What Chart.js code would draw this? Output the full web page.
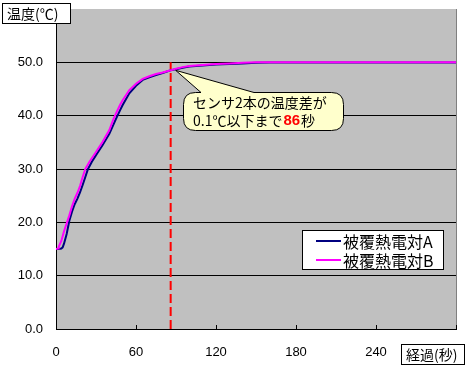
<!DOCTYPE html>
<html><head><meta charset="utf-8">
<script src="https://cdn.jsdelivr.net/npm/chart.js@4.4.0/dist/chart.umd.min.js"></script>
<style>html,body{margin:0;padding:0;background:#fff;}#wrap{width:475px;height:372px;}</style>
</head><body><div id="wrap"><canvas id="c" width="475" height="372"></canvas></div>
<script>
const seriesNames = ['被覆熱電対A', '被覆熱電対B'];
const timeA = [0,2,4,5,6,8,10,12,14,16,18,20,22,24,27,30,35,40,45,48,50,55,60,65,70,75,80,86,90,95,100,110,120,130,140,150,160,200,250,300];
const tempA = [15.0,15.0,15.1,15.3,16.0,17.8,20.3,22.0,23.4,24.4,25.6,27.0,28.5,30.0,31.4,32.6,34.5,36.6,39.4,41.0,42.0,44.2,45.6,46.7,47.2,47.6,48.0,48.5,48.7,49.0,49.2,49.4,49.6,49.7,49.8,49.9,49.95,49.95,49.95,49.95];
const timeB = [0,1.5,2,4,6,8,10,12,14,16,18,20,22,25,30,35,40,43,45,48,50,55,60,65,70,75,80,86,90,95,100,110,120,130,140,150,160,200,250,300];
const tempB = [15.0,15.1,15.4,16.5,18.3,19.8,21.3,23.0,24.4,25.5,26.8,28.5,30.0,31.3,33.2,35.1,37.3,39.3,40.4,42.0,42.9,44.8,46.0,46.9,47.4,47.8,48.1,48.5,48.8,49.1,49.3,49.5,49.7,49.8,49.9,50.0,50.0,50.0,50.0,50.0];
const markerTime = 86;
const markerRange = [0, 50];
const xTicks = [0, 60, 120, 180, 240, 300];
const yTitle = '温度(℃)';
const xTitle = '経過(秒)';
const noteLine1 = 'センサ2本の温度差が';
const noteLine2a = '0.1℃以下まで';
const noteValue = '86';
const noteLine2b = '秒';

const FONT = '"Noto Sans CJK JP", "Liberation Sans", sans-serif';
const NUMFONT = '"Liberation Sans", Arial, sans-serif';

function pts(xs, ys){ return xs.map((x,i)=>({x:x, y:ys[i]})); }

const bgPlugin = {
  id:'bg',
  beforeDraw(chart){
    const {ctx, chartArea:a} = chart;
    ctx.save();
    ctx.fillStyle = '#C0C0C0';
    ctx.fillRect(a.left, a.top, a.right-a.left, a.bottom-a.top);
    ctx.restore();
  },
  beforeDatasetsDraw(chart){
    const {ctx, chartArea:a} = chart;
    ctx.save();
    ctx.strokeStyle = '#808080';
    ctx.lineWidth = 1;
    ctx.beginPath();
    ctx.moveTo(Math.round(a.right)+0.5, a.top);
    ctx.lineTo(Math.round(a.right)+0.5, a.bottom);
    ctx.stroke();
    const xs = chart.scales.x;
    ctx.strokeStyle = '#000';
    ctx.beginPath();
    xTicks.forEach(t=>{
      const px = Math.round(xs.getPixelForValue(t))+0.5;
      ctx.moveTo(px, a.bottom);
      ctx.lineTo(px, a.bottom-4);
    });
    ctx.stroke();
    ctx.restore();
  },
  afterDraw(chart){
    const {ctx} = chart;
    const xs = chart.scales.x, ys = chart.scales.y;
    ctx.save();
    function box(x,y,w,h,text){
      ctx.fillStyle='#fff'; ctx.fillRect(x,y,w,h);
      ctx.strokeStyle='#000'; ctx.lineWidth=1;
      ctx.strokeRect(x+0.5,y+0.5,w,h);
      ctx.fillStyle='#000'; ctx.font='14px '+FONT;
      ctx.textBaseline='middle'; ctx.textAlign='left';
      ctx.fillText(text, x+5, y+h/2+1);
    }
    box(2,3,68,20,yTitle);
    box(401,344,63,20,xTitle);

    const ax = xs.getPixelForValue(markerTime)+5, ay = ys.getPixelForValue(48.5);
    const L=183.5, T=92.5, R=343.5, B=130.5, r=12;
    ctx.beginPath();
    ctx.moveTo(L+r, T);
    ctx.lineTo(201, T);
    ctx.lineTo(ax, ay);
    ctx.lineTo(254, T);
    ctx.lineTo(R-r, T);
    ctx.quadraticCurveTo(R, T, R, T+r);
    ctx.lineTo(R, B-r);
    ctx.quadraticCurveTo(R, B, R-r, B);
    ctx.lineTo(L+r, B);
    ctx.quadraticCurveTo(L, B, L, B-r);
    ctx.lineTo(L, T+r);
    ctx.quadraticCurveTo(L, T, L+r, T);
    ctx.closePath();
    ctx.fillStyle='#FFFFCC'; ctx.fill();
    ctx.strokeStyle='#000'; ctx.lineWidth=1; ctx.stroke();
    ctx.fillStyle='#000'; ctx.font='14px '+FONT; ctx.textBaseline='middle'; ctx.textAlign='left';
    ctx.fillText(noteLine1, 193, 103);
    let x = 193;
    ctx.fillText(noteLine2a, x, 121); x += ctx.measureText(noteLine2a).width;
    ctx.font='bold 15px '+NUMFONT; ctx.fillStyle='#FF0000';
    ctx.fillText(noteValue, x+1, 121); x += ctx.measureText(noteValue).width+2;
    ctx.font='14px '+FONT; ctx.fillStyle='#000';
    ctx.fillText(noteLine2b, x, 121);

    ctx.fillStyle='#fff'; ctx.fillRect(302,230,141,39);
    ctx.strokeStyle='#000'; ctx.lineWidth=1; ctx.strokeRect(302.5,230.5,141,39);
    const ds = chart.data.datasets;
    [0,1].forEach(i=>{
      const yy = 241 + i*19;
      ctx.strokeStyle = ds[i].borderColor; ctx.lineWidth=2;
      ctx.beginPath(); ctx.moveTo(316, yy); ctx.lineTo(341, yy); ctx.stroke();
      ctx.fillStyle='#000'; ctx.font='16px '+FONT; ctx.textBaseline='middle';
      ctx.fillText(ds[i].label, 343, yy+1);
    });
    ctx.restore();
  }
};

new Chart(document.getElementById('c'), {
  type:'line',
  data:{
    datasets:[
      {label:seriesNames[0], data:pts(timeA,tempA), borderColor:'#000080', borderWidth:2, pointRadius:0, tension:0, order:3},
      {label:seriesNames[1], data:pts(timeB,tempB), borderColor:'#FF00FF', borderWidth:2, pointRadius:0, tension:0, order:2},
      {label:'marker', data:[{x:markerTime,y:markerRange[0]},{x:markerTime,y:markerRange[1]}], borderColor:'#FF0000', borderWidth:2, borderDash:[9,4], pointRadius:0, order:1}
    ]
  },
  options:{
    responsive:false, animation:false, devicePixelRatio:1,
    layout:{padding:{top:9,right:19,left:0,bottom:0}},
    plugins:{legend:{display:false}, tooltip:{enabled:false}},
    scales:{
      x:{type:'linear', min:0, max:300,
        afterBuildTicks(s){ s.ticks = xTicks.map(v=>({value:v})); },
        afterFit(s){ s.height = 43; s.paddingLeft = 0; s.paddingRight = 0; },
        grid:{display:false, drawTicks:false},
        border:{display:true, color:'#000', width:1},
        ticks:{autoSkip:false, maxRotation:0, padding:16, color:'#000', font:{family:NUMFONT, size:13},
          callback:v=> v===300 ? '' : String(v)}
      },
      y:{min:0, max:60,
        ticks:{stepSize:10, padding:13, color:'#000', font:{family:NUMFONT, size:13},
          callback:v=> v===60 ? '' : v.toFixed(1)},
        afterFit(s){ s.width = 56; s.paddingTop = 0; s.paddingBottom = 0; },
        grid:{drawTicks:false, lineWidth:1, color:c=> c.tick && c.tick.value===60 ? 'rgba(0,0,0,0)' : '#000'},
        border:{display:true, color:'#000', width:1}
      }
    }
  },
  plugins:[bgPlugin]
});
</script></body></html>
